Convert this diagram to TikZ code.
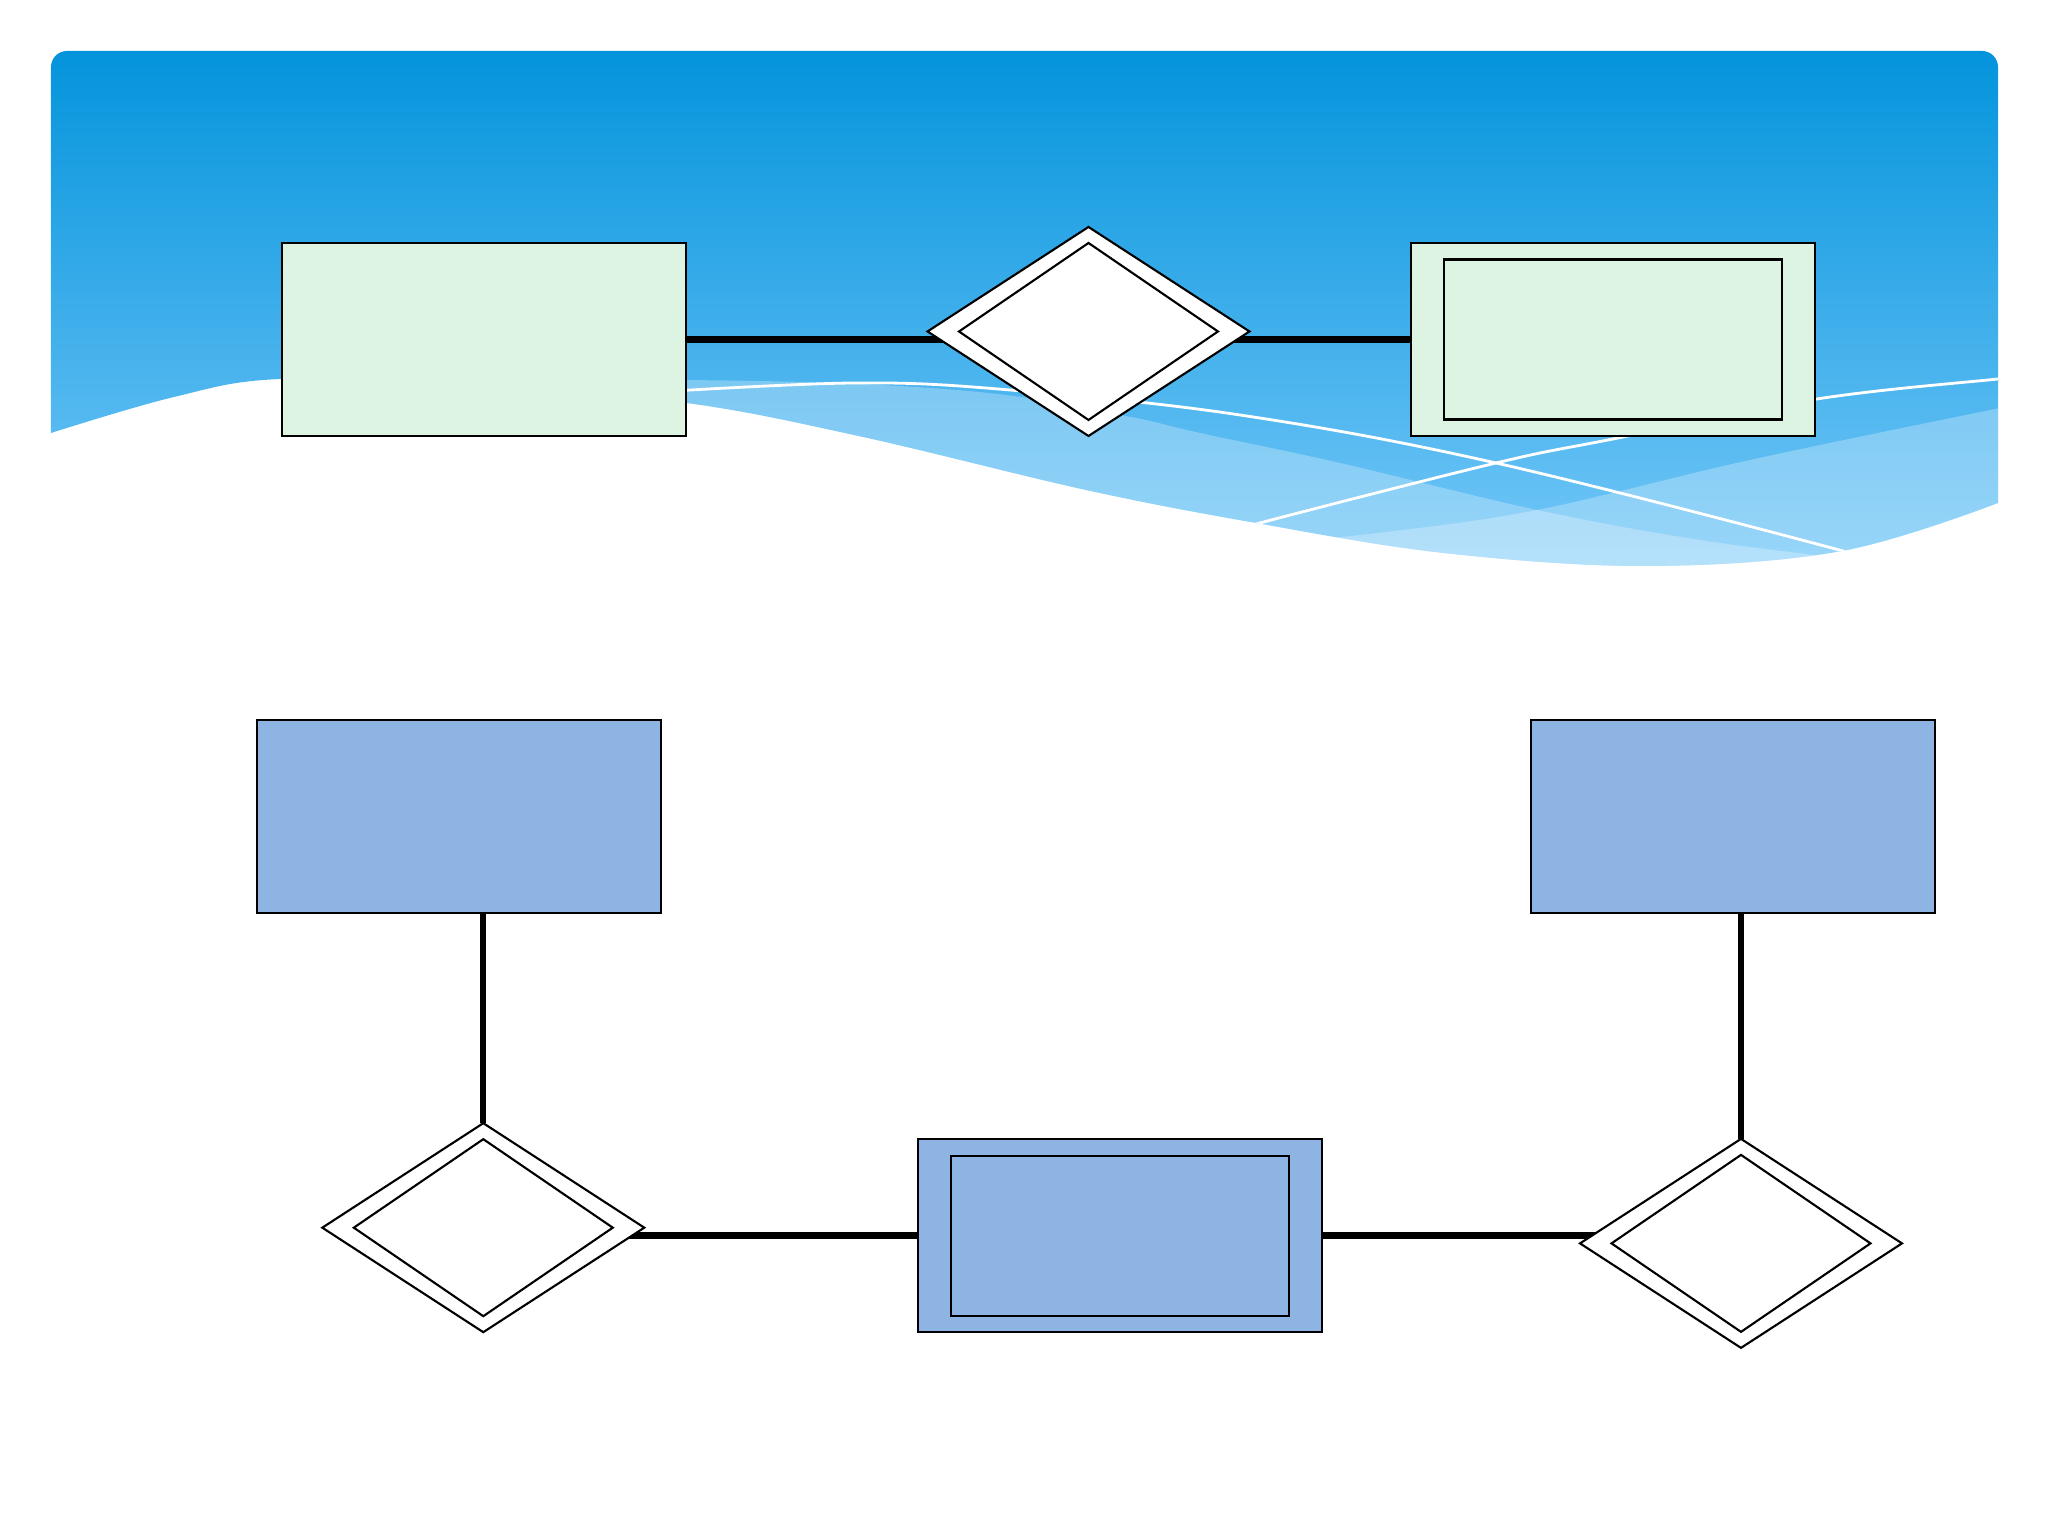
\documentclass[tikz,border=0pt]{standalone}
\usepackage{tikz}
\usepackage{xcolor}
\usetikzlibrary{shapes.geometric,positioning,backgrounds}
\definecolor{SkyTop}{RGB}{4,148,220}
\definecolor{SkyLow}{RGB}{131,206,252}
\definecolor{MintFill}{RGB}{221,244,227}
\definecolor{SoftBlue}{RGB}{142,180,227}
\pgfdeclarelayer{lines}
\pgfsetlayers{background,lines,main}
\tikzset{
  gbox/.style={draw=black,fill=MintFill,minimum width=4.04cm,minimum height=1.93cm,
               inner sep=0pt,outer sep=0pt,line width=0.6pt},
  bbox/.style={gbox,fill=SoftBlue},
  ibox/.style={draw=black,minimum width=3.38cm,minimum height=1.6cm,
               inner sep=0pt,outer sep=0pt,line width=0.6pt},
  dbox/.style={draw=black,fill=white,diamond,minimum width=3.22cm,minimum height=2.09cm,
               inner sep=0pt,outer sep=0pt,line width=0.6pt},
  idia/.style={draw=black,diamond,minimum width=2.59cm,minimum height=1.77cm,
               inner sep=0pt,outer sep=0pt,line width=0.6pt},
  conn/.style={black,line width=1.8pt},
  wline/.style={white,line width=0.8pt},
}

\begin{document}
\begin{tikzpicture}
  \useasboundingbox (0,0) rectangle (20.48,15.36);
  % sky header, cut off by the wave
  \begin{scope}[on background layer]
    \clip (0.51,11.03) -- (0.51,14.69) arc[start angle=180,end angle=90,radius=0.16]
      -- (19.82,14.85) arc[start angle=90,end angle=0,radius=0.16] -- (19.98,10.33)
      -- plot[smooth,tension=0.6] coordinates {(19.98,10.33) (18.42,9.85) (16.48,9.70)
      (14.44,9.83) (12.56,10.13) (10.86,10.46) (8.63,10.99) (6.87,11.33) (4.80,11.52)
      (2.81,11.57) (1.74,11.39) (0.51,11.03)} -- cycle;
    \shade[top color=SkyTop,bottom color=SkyLow] (0.4,9.0) rectangle (20.1,14.85);
    \fill[white,opacity=0.27] plot[smooth,tension=0.6] coordinates {(5.5,11.56) (6.87,11.56)
      (8.60,11.52) (10.06,11.41) (11.31,11.19) (12.00,11.03) (13.40,10.73) (15.37,10.26)
      (17.00,9.96) (18.60,9.76) (20.2,9.6)} -- (20.2,8.8) -- (5.5,8.8) -- cycle;
    \fill[white,opacity=0.27] plot[smooth,tension=0.6] coordinates {(12.9,9.95) (13.78,10.03)
      (15.37,10.26) (17.50,10.76) (20.0,11.28) (20.2,11.32)} -- (20.2,8.8) -- (12.9,8.8) -- cycle;
    \draw[wline] plot[smooth,tension=0.6] coordinates {(6.40,11.43) (8.54,11.53) (10.10,11.46)
      (12.40,11.21) (14.96,10.73) (18.43,9.85) (18.8,9.7)};
    \draw[wline] plot[smooth,tension=0.6] coordinates {(12.30,10.03) (12.56,10.12) (14.96,10.73)
      (16.13,10.97) (18.17,11.37) (19.98,11.57) (20.2,11.59)};
  \end{scope}

  \node[gbox] (ent1) at (4.84,11.965) {};
  \node[dbox] (rel1) at (10.885,12.045) {};
  \node[idia] (rel1in) at (rel1.center) {};
  \node[gbox,right=7.25cm of ent1] (went1) {};
  \node[ibox] (went1in) at (went1.center) {};

  \node[bbox] (ent2) at (4.59,7.197) {};
  \node[bbox,right=8.70cm of ent2] (ent3) {};
  \node[dbox] (rel2) at (4.833,3.083) {};
  \node[idia] (rel2in) at (rel2.center) {};
  \node[bbox] (went2) at (11.20,3.004) {};
  \node[ibox] (went2in) at (went2.center) {};
  \node[dbox] (rel3) at (17.41,2.926) {};
  \node[idia] (rel3in) at (rel3.center) {};

  \begin{pgfonlayer}{lines}
    \draw[conn] (ent1.east) -- (ent1.east -| rel1.center);
    \draw[conn] (went1.west) -- (went1.west -| rel1.center);
    \draw[conn] (rel2.north) -- (rel2.north |- ent2.south);
    \draw[conn] (went2.west) -- (went2.west -| rel2.center);
    \draw[conn] (went2.east) -- (went2.east -| rel3.center);
    \draw[conn] (rel3.north) -- (rel3.north |- ent3.south);
  \end{pgfonlayer}
\end{tikzpicture}
\end{document}
